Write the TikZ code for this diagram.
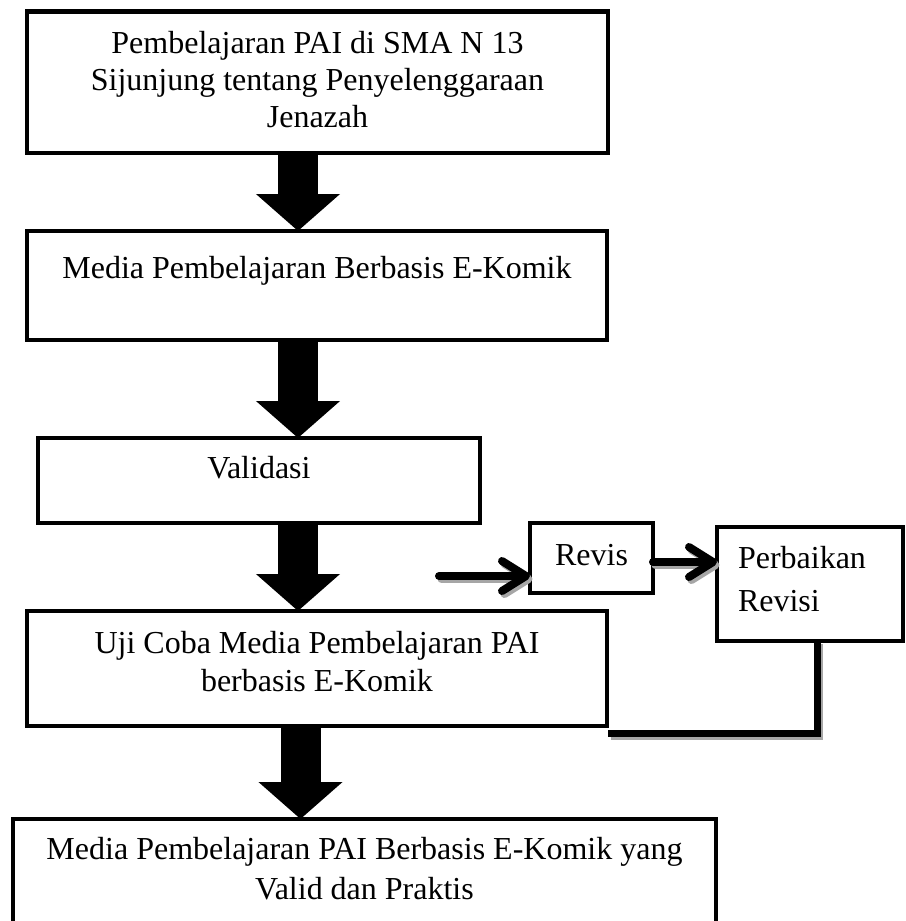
\documentclass[tikz,border=0pt]{standalone}
\usepackage{fontspec}
\setmainfont{Liberation Serif}
\usetikzlibrary{arrows.meta,calc}
\newcommand{\boxtxt}[5]{\parbox[c][#2][t]{#1}{\centering\baselineskip=#4\rule{0pt}{#3}#5\par}}
\begin{document}
\begin{tikzpicture}[x=1pt,y=-1pt,
  font=\fontsize{32}{37}\selectfont,
  box/.style={draw=black, line width=4.5pt, inner sep=0pt, outer sep=0pt},
  smallbox/.style={draw=black, line width=4pt, inner sep=0pt, outer sep=0pt},
  bigarrow/.style={draw=black, line width=40pt, -{Triangle[length=37pt,width=82pt]}},
  smallarrow/.style={line width=8pt, line cap=round, -{Straight Barb[length=24pt,width=30pt,line cap=round,line join=round]}},
  shadowpath/.style={draw=black!35, transform canvas={shift={(2.5pt,-3pt)}}},
  fbline/.style={line width=7pt, line cap=butt, line join=miter}]
\useasboundingbox (0,0) rectangle (905,921);
\clip (0,0) rectangle (905,921);

\node[box] (b1) at (317.5,82.35) {\boxtxt{581pt}{141.3pt}{42pt}{37pt}{Pembelajaran PAI di SMA N 13\\Sijunjung tentang Penyelenggaraan\\Jenazah}};
\node[box] (b2) at (317,285.5) {\boxtxt{580pt}{109pt}{47pt}{37pt}{Media Pembelajaran Berbasis E-Komik}};
\node[box] (b3) at (259,480.5) {\boxtxt{442pt}{85pt}{40pt}{37pt}{Validasi}};
\node[box] (b4) at (317,668.5) {\boxtxt{580pt}{115pt}{42pt}{38pt}{Uji Coba Media Pembelajaran PAI\\berbasis E-Komik}};
\node[box] (b5) at (364.5,889.5) {\boxtxt{703pt}{141pt}{40pt}{40pt}{Media Pembelajaran PAI Berbasis E-Komik yang\\Valid dan Praktis}};
\node[smallbox] (rev) at (591.5,558) {\boxtxt{123pt}{70pt}{42pt}{37pt}{Revis}};
\node[smallbox] (pb) at (810,584) {\parbox[c][114pt][t]{186pt}{\leftskip=21pt\baselineskip=43pt\rule{0pt}{41pt}Perbaikan\\Revisi\par}};

\coordinate (ax) at (298,0);
\coordinate (ax2) at (300.5,0);
\draw[bigarrow] (b1.south -| ax) -- (b2.north -| ax);
\draw[bigarrow] (b2.south -| ax) -- (b3.north -| ax);
\draw[bigarrow] (b3.south -| ax) -- (b4.north -| ax);
\draw[bigarrow] (b4.south -| ax2) -- (b5.north -| ax2);

\coordinate (rin) at (439,576);
\coordinate (rp) at (0,562);
\coordinate (fbx) at (817,0);
\coordinate (fbend) at (608,733);

\draw[smallarrow, shadowpath] (rin) -- (rin -| rev.west);
\draw[smallarrow, shadowpath] (rev.east |- rp) -- (pb.west |- rp);
\draw[fbline, shadowpath] (pb.south -| fbx) |- (fbend);

\draw[smallarrow] (rin) -- (rin -| rev.west);
\draw[smallarrow] (rev.east |- rp) -- (pb.west |- rp);
\draw[fbline] (pb.south -| fbx) |- (fbend);
\end{tikzpicture}
\end{document}
